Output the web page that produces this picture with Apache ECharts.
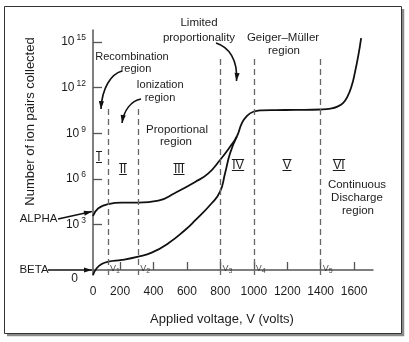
<!DOCTYPE html>
<html><head><meta charset="utf-8">
<script src="https://cdn.jsdelivr.net/npm/echarts@6/dist/echarts.min.js"></script>
<style>html,body{margin:0;padding:0;background:#fff}#c{width:409px;height:342px}</style>
</head><body><div id="c"></div>
<script>
// ---- data (x: applied voltage in volts, y: log10 of number of ion pairs collected) ----
const voltsMin = 38, voltsMax = 1713;
const expMin = -0.33, expMax = 15.79;

const alphaVolts = [38, 70, 130, 210, 309, 429, 529, 649, 728, 798, 858, 898, 928, 958, 997, 1048, 1127, 1250, 1400, 1460, 1500, 1535, 1560, 1585, 1605, 1625, 1642];
const alphaExp   = [3.55, 4.06, 4.34, 4.43, 4.43, 4.56, 5.07, 5.79, 6.36, 7.24, 8.11, 8.77, 9.65, 10.13, 10.41, 10.5, 10.52, 10.53, 10.56, 10.62, 10.75, 11.0, 11.4, 12.1, 13.0, 14.1, 15.26];

const betaVolts = [38, 60, 90, 130, 210, 309, 389, 489, 589, 649, 748, 798, 828, 858, 898];
const betaExp   = [-0.33, 0.11, 0.39, 0.545, 0.66, 0.88, 1.14, 1.76, 2.63, 3.26, 4.39, 5.15, 6.36, 7.68, 8.77];

const boundaryNames = ['1', '2', '3', '4', '5'];          // V1 ... V5
const boundaryVolts = [128, 308, 800, 1000, 1400];
const boundaryTopExp = [10.72, 10.72, 14.08, 14.08, 14.08];

const xTickValues = [200, 400, 600, 800, 1000, 1200, 1400, 1600];
const xTickLabels = ['0', '200', '400', '600', '800', '1000', '1200', '1400', '1600'];
const xLabelValues = [voltsMin, 200, 400, 600, 800, 1000, 1200, 1400, 1600];
const yTickExp = [3, 6, 9, 12, 15];
const yLabelValues = [expMin, 3, 6, 9, 12, 15];

const regionNumerals = ['I', 'II', 'III', 'IV', 'V', 'VI'];

// ---- layout / style ----
const FONT = '"Liberation Sans", Arial, sans-serif';
const TXT = '#1c1c1c';
const AX = '#555';

const chart = echarts.init(document.getElementById('c'), null, { renderer: 'canvas' });

function pairs(xs, ys) { return xs.map((x, i) => [x, ys[i]]); }

function txt(text, x, y, size, extra) {
  return Object.assign({
    type: 'text', silent: true,
    style: { text, x, y, fill: TXT, font: size + 'px ' + FONT,
      align: 'center', verticalAlign: 'middle', textAlign: 'center', textVerticalAlign: 'middle' }
  }, extra || {});
}
function head(tx, ty, fx, fy, len, hw) {
  const dx = tx - fx, dy = ty - fy, d = Math.hypot(dx, dy), ux = dx / d, uy = dy / d;
  const bx = tx - ux * len, by = ty - uy * len;
  return { type: 'polygon', silent: true,
    shape: { points: [[tx, ty], [bx - uy * hw, by + ux * hw], [bx + uy * hw, by - ux * hw]] },
    style: { fill: '#111' } };
}
function curveArrow(x1, y1, c1x, c1y, c2x, c2y, x2, y2) {
  return [
    { type: 'bezierCurve', silent: true,
      shape: { x1, y1, cpx1: c1x, cpy1: c1y, cpx2: c2x, cpy2: c2y, x2: x2, y2: y2 },
      style: { stroke: '#111', lineWidth: 1.6, fill: null } },
    head(x2, y2, c2x, c2y, 8, 2.6)
  ];
}
function lineArrow(x1, y1, x2, y2) {
  return [
    { type: 'line', silent: true, shape: { x1, y1, x2, y2 }, style: { stroke: '#111', lineWidth: 1.3 } },
    head(x2, y2, x1, y1, 8, 2.6)
  ];
}

// roman numerals drawn CAD-style: letters with a bar above and below
const measureCtx = document.createElement('canvas').getContext('2d');
const NUM_FONT = '12px "Liberation Sans", Arial, sans-serif';
measureCtx.font = NUM_FONT;
const numeralPos = [[99, 157], [123, 169], [179, 169], [238, 165], [287, 165], [339, 165]];
function numeral(t, x, y) {
  const w = Math.max(measureCtx.measureText(t).width + 1, 6);
  const top = y - 5.5, bot = y + 5.5;
  return [
    { type: 'text', silent: true,
      style: { text: t, x, y: y + 0.5, fill: TXT, font: NUM_FONT,
        align: 'center', verticalAlign: 'middle', textAlign: 'center', textVerticalAlign: 'middle' } },
    { type: 'line', silent: true, shape: { x1: x - w / 2, y1: top, x2: x + w / 2, y2: top }, style: { stroke: TXT, lineWidth: 1 } },
    { type: 'line', silent: true, shape: { x1: x - w / 2, y1: bot, x2: x + w / 2, y2: bot }, style: { stroke: TXT, lineWidth: 1 } }
  ];
}

const graphics = [
  { type: 'polyline', silent: true, shape: { points: [[7, 335], [403, 335], [403, 9]] }, style: { stroke: '#8a8a8a', lineWidth: 2.5, fill: null } },
  { type: 'rect', silent: true, shape: { x: 4.5, y: 6.5, width: 397, height: 327 }, style: { stroke: '#333', lineWidth: 1, fill: null } },
  txt('Recombination', 132, 57, 11),
  txt('region', 136, 68.5, 11),
  txt('Ionization', 160, 85, 11),
  txt('region', 160, 98, 11),
  txt('Proportional', 177, 130, 11.5),
  txt('region', 176, 142, 11.5),
  txt('Limited', 199, 23, 11.5),
  txt('proportionality', 199, 37.5, 11.5),
  txt('Geiger–Müller', 283, 38, 11.5),
  txt('region', 284, 51, 11.5),
  txt('Continuous', 357, 185, 11.5),
  txt('Discharge', 357, 198, 11.5),
  txt('region', 358, 211, 11.5),
  txt('ALPHA', 38.5, 219, 11.5),
  txt('BETA', 34, 270, 11.5),
  ...curveArrow(122, 71, 111, 74, 102, 88, 101, 109),
  ...curveArrow(141, 99, 131, 101, 124, 110, 122, 123),
  ...curveArrow(216, 43, 229, 47, 238, 60, 236.5, 81),
  ...lineArrow(58, 219, 92, 211.5),
  ...lineArrow(48, 270, 92, 270),
  ...regionNumerals.flatMap((t, i) => numeral(t, numeralPos[i][0], numeralPos[i][1]))
];

const boundarySeriesData = boundaryVolts.map((v, i) => [
  { coord: [v, expMin] }, { coord: [v, boundaryTopExp[i]] }
]);

const option = {
  animation: false,
  backgroundColor: '#fff',
  grid: { left: 93, right: 36, top: 30, bottom: 67, outerBoundsMode: 'none', containLabel: false },
  xAxis: {
    type: 'value', min: voltsMin, max: voltsMax,
    name: 'Applied voltage, V (volts)', nameLocation: 'middle', nameGap: 38,
    nameTextStyle: { fontFamily: FONT, fontSize: 13, color: TXT, padding: [0, 22, 0, 0] },
    splitLine: { show: false },
    axisLine: { show: true, lineStyle: { color: AX, width: 1.5 } },
    axisTick: { show: true, inside: true, length: 8, customValues: xTickValues, lineStyle: { color: AX, width: 1.3 } },
    axisLabel: { customValues: xLabelValues, margin: 11, fontFamily: FONT, fontSize: 12, color: TXT,
      formatter: v => xTickLabels[xLabelValues.indexOf(v)] }
  },
  yAxis: {
    type: 'value', min: expMin, max: expMax,
    name: 'Number of ion pairs collected', nameLocation: 'middle', nameGap: 56, nameRotate: 90,
    nameTextStyle: { fontFamily: FONT, fontSize: 13, color: TXT, padding: [0, 0, 0, 62] },
    splitLine: { show: false },
    axisLine: { show: true, lineStyle: { color: AX, width: 1.5 } },
    axisTick: { show: true, inside: true, length: 9, customValues: yTickExp, lineStyle: { color: AX, width: 1.3 } },
    axisLabel: { customValues: yLabelValues, margin: 7, fontFamily: FONT, color: TXT,
      formatter: v => v === expMin ? '{z|0}' : '{b|10}{s|' + Math.round(v) + '}',
      rich: {
        b: { fontFamily: FONT, fontSize: 12, color: TXT },
        s: { fontFamily: FONT, fontSize: 8.5, color: TXT, padding: [0, 0, 8, 2] },
        z: { fontFamily: FONT, fontSize: 12, color: TXT, padding: [7, 8, 0, 0] }
      } }
  },
  series: [
    { type: 'line', name: 'ALPHA', data: pairs(alphaVolts, alphaExp), showSymbol: false, symbol: 'none',
      smooth: 0.5, lineStyle: { color: '#111', width: 1.8 }, z: 3 },
    { type: 'line', name: 'BETA', data: pairs(betaVolts, betaExp), showSymbol: false, symbol: 'none',
      smooth: 0.5, lineStyle: { color: '#111', width: 1.8 }, z: 3,
      markLine: { silent: true, symbol: 'none', label: { show: false },
        lineStyle: { color: '#666', width: 1.3, type: [6, 4] },
        emphasis: { disabled: true },
        data: boundarySeriesData } },
    { type: 'scatter', name: 'boundaries', symbolSize: 0, silent: true,
      data: boundaryVolts.map(v => [v, expMin]),
      label: { show: true, position: 'right', distance: 2, offset: [0, -6],
        formatter: p => '{v|V}{s|' + boundaryNames[p.dataIndex] + '}',
        rich: { v: { fontFamily: FONT, fontSize: 9, color: TXT },
                s: { fontFamily: FONT, fontSize: 7, color: TXT, padding: [5, 0, 0, 0] } } } }
  ],
  graphic: graphics
};
chart.setOption(option);
</script></body></html>
